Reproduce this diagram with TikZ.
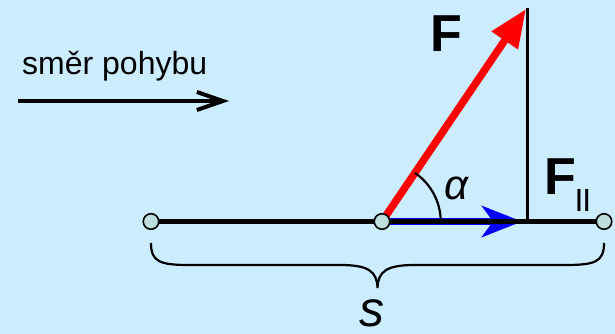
\documentclass[tikz,border=0pt]{standalone}
\usepackage{fontspec}
\setmainfont{Liberation Sans}
\usetikzlibrary{arrows.meta}
\definecolor{bg}{RGB}{204,236,255}
\definecolor{dotfill}{RGB}{190,222,222}
\begin{document}
\begin{tikzpicture}[x=1pt,y=-1pt,
  dot/.style={circle,draw=black,line width=1.6pt,fill=dotfill,minimum size=15.5pt,inner sep=0pt},
  lbl/.style={inner sep=0pt,anchor=base west},
  guide/.style={line width=2.2pt,black}
]
\fill[bg] (0,0) rectangle (615,334);
\useasboundingbox (0,0) rectangle (615,334);

\coordinate (P1) at (151,221.5);
\coordinate (P2) at (382,221.5);
\coordinate (P3) at (604,221.5);
\coordinate (Ftip) at (526,9);
\coordinate (foot) at (527.5,221.5);
\coordinate (top) at (527.5,8);
\coordinate (B1) at (382,221.5);
\coordinate (B2) at (522,221.5);
\coordinate (m1) at (18,101);
\coordinate (m2) at (229,101);

% direction of motion
\node[lbl, font=\fontsize{32}{32}\selectfont] (dir) at (22,74.5) {směr pohybu};
\draw[line width=4pt, -{Straight Barb[length=26pt,width=18pt]}] (m1) -- (m2);

% force vectors
\draw[red, line width=7.5pt, -{Triangle[length=38pt,width=30pt]}] (P2) -- (Ftip);
\draw[blue, line width=7pt, -{Stealth[length=40pt,width=31pt,inset=11pt]}] (B1) -- (B2);
\draw[line width=4.5pt] (P1) -- (P3);
\draw[guide] (top) -- (foot);
\draw[guide] ([xshift=58.7pt]P2) arc[start angle=0, end angle=55.8, radius=58.7pt];

% brace
\draw[guide] (151,243) .. controls (151,262) and (160,265) .. (190,265) -- (340,265)
  .. controls (368,265) and (377,271) .. (377.5,288)
  .. controls (378,271) and (387,265) .. (415,265) -- (565,265)
  .. controls (595,265) and (604,262) .. (604,243);

% points
\node[dot] (c1) at (P1) {};
\node[dot] (c2) at (P2) {};
\node[dot] (c3) at (P3) {};

% labels
\node[lbl, font=\fontsize{52}{52}\selectfont\bfseries] (F) at (430.2,52) {F};
\node[lbl, font=\fontsize{52}{52}\selectfont\bfseries] (Fp) at (544.5,194) {F};
\node[lbl, font=\fontsize{32}{32}\selectfont] (par) at (574.3,211) {I\kern-1pt I};
\node[lbl, font=\fontsize{42}{42}\selectfont\itshape] (al) at (444,199) {α};
\node[inner sep=0pt, anchor=base, font=\fontsize{50}{50}\selectfont\itshape] (s) at (372,326) {s};
\end{tikzpicture}
\end{document}
